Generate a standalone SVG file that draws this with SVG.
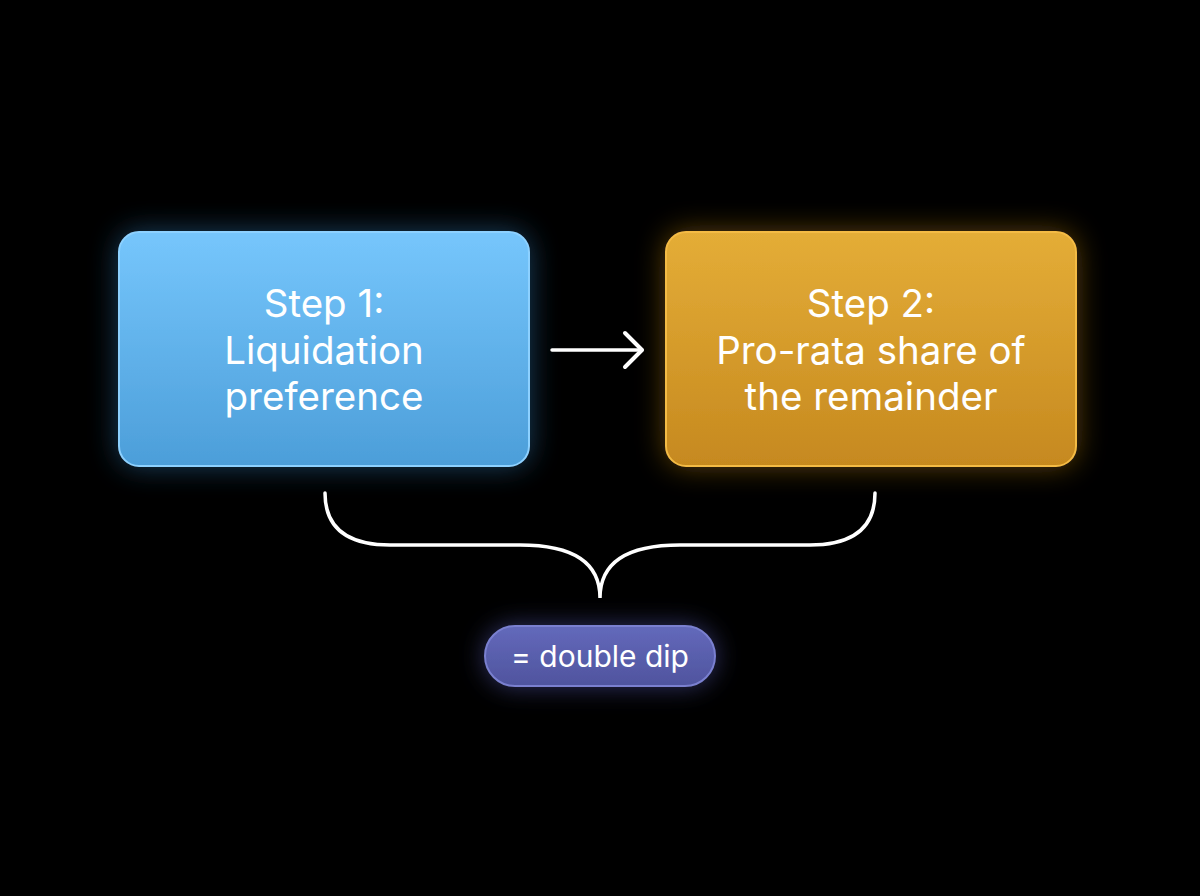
<svg xmlns="http://www.w3.org/2000/svg" width="1200" height="896" viewBox="0 0 1200 896">
<defs>
<linearGradient id="gBlue" x1="0" y1="0" x2="0" y2="1"><stop offset="0" stop-color="#76c6fc"/><stop offset="1" stop-color="#4c9ed9"/></linearGradient>
<linearGradient id="gGold" x1="0" y1="0" x2="0" y2="1"><stop offset="0" stop-color="#e4ad37"/><stop offset="1" stop-color="#c6891f"/></linearGradient>
<linearGradient id="gPurple" x1="0" y1="0" x2="0" y2="1"><stop offset="0" stop-color="#6369bb"/><stop offset="1" stop-color="#4f549e"/></linearGradient>
<filter id="glowB" x="-20%" y="-30%" width="140%" height="160%"><feGaussianBlur in="SourceAlpha" stdDeviation="14" result="b"/><feFlood flood-color="#3f9ee8" flood-opacity="0.4"/><feComposite operator="in" in2="b"/><feMerge><feMergeNode/><feMergeNode in="SourceGraphic"/></feMerge></filter>
<filter id="glowG" x="-20%" y="-30%" width="140%" height="160%"><feGaussianBlur in="SourceAlpha" stdDeviation="14" result="b"/><feFlood flood-color="#e8a020" flood-opacity="0.4"/><feComposite operator="in" in2="b"/><feMerge><feMergeNode/><feMergeNode in="SourceGraphic"/></feMerge></filter>
<filter id="glowP" x="-30%" y="-60%" width="160%" height="220%"><feGaussianBlur in="SourceAlpha" stdDeviation="12" result="b"/><feFlood flood-color="#6a70d8" flood-opacity="0.45"/><feComposite operator="in" in2="b"/><feMerge><feMergeNode/><feMergeNode in="SourceGraphic"/></feMerge></filter>
<marker id="arr" viewBox="0 0 24 40" refX="20" refY="20" markerWidth="24" markerHeight="40" markerUnits="userSpaceOnUse" orient="auto"><path d="M3 3 L20 20 L3 37" fill="none" stroke="#ffffff" stroke-width="4" stroke-linecap="round" stroke-linejoin="round"/></marker>
<style>
.lbl{font-family:Inter,"Liberation Sans",sans-serif;fill:#ffffff;text-anchor:middle;}
.big{font-size:38.5px;}
.pill{font-size:30px;}
.con{fill:none;stroke:#ffffff;stroke-width:3.5;stroke-linecap:round;}
</style>
</defs>
<rect width="1200" height="896" fill="#000000"/>
<g id="step1">
<rect x="119" y="232" width="410" height="234" rx="20" fill="url(#gBlue)" stroke="#8dd1ff" stroke-width="2" filter="url(#glowB)"/>
<text class="lbl big" x="324" y="317">Step 1:</text>
<text class="lbl big" x="324" y="364">Liquidation</text>
<text class="lbl big" x="324" y="410">preference</text>
</g>
<g id="step2">
<rect x="666" y="232" width="410" height="234" rx="20" fill="url(#gGold)" stroke="#f4bb45" stroke-width="2" filter="url(#glowG)"/>
<text class="lbl big" x="871" y="317">Step 2:</text>
<text class="lbl big" x="871" y="364">Pro-rata share of</text>
<text class="lbl big" x="871" y="410">the remainder</text>
</g>
<g id="result">
<rect x="485" y="626" width="230" height="60" rx="30" fill="url(#gPurple)" stroke="#7a80d0" stroke-width="2" filter="url(#glowP)"/>
<text class="lbl pill" x="600" y="667">= double dip</text>
</g>
<g id="connectors">
<line class="con" x1="552" y1="350" x2="642" y2="350" marker-end="url(#arr)"/>
<path class="con" d="M325 493 C325 530 350 545 390 545 L520 545 C570 545 600 560 600 598 C600 560 630 545 680 545 L810 545 C850 545 875 530 875 493"/>
</g>
</svg>
